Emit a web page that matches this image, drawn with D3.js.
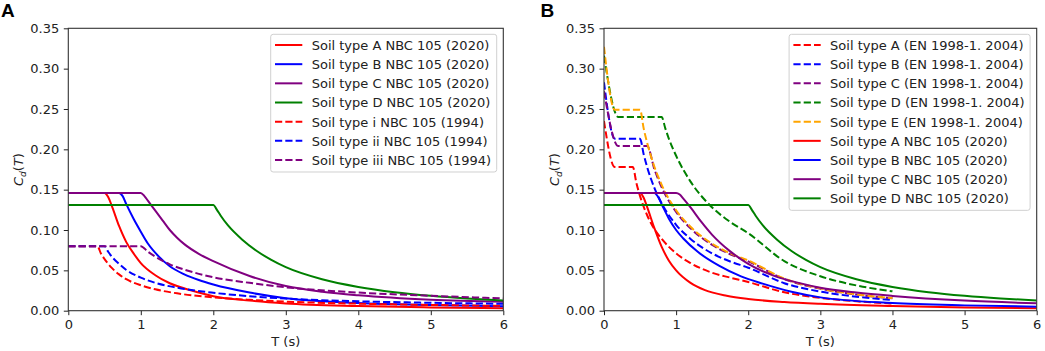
<!DOCTYPE html>
<html>
<head>
<meta charset="utf-8">
<script src="https://cdn.jsdelivr.net/npm/d3@7"></script>
<style>
  body { margin: 0; background: #fff; }
  svg { display: block; font-family: "DejaVu Sans", sans-serif; }
</style>
</head>
<body>
<svg id="chart" width="1045" height="351"></svg>
<script>
// ticks
const xTicks = [0, 1, 2, 3, 4, 5, 6];
const yTicks = [0, 0.05, 0.10, 0.15, 0.20, 0.25, 0.30, 0.35];

// panel A : NBC 105 (2020) and NBC 105 (1994), [T, Cd]
const aSoilA2020 = [[0,0.146],[0.5,0.146],[0.55,0.141],[0.6,0.13],[0.7,0.105],[0.8,0.085],[0.9,0.071],[1.0,0.059],[1.2,0.044],[1.4,0.034],[1.7,0.025],[2,0.018],[2.5,0.0125],[3,0.009],[4,0.0058],[5,0.004],[6,0.003]];
const aSoilB2020 = [[0,0.146],[0.7,0.146],[0.75,0.142],[0.8,0.132],[0.9,0.114],[1.0,0.098],[1.1,0.083],[1.25,0.067],[1.4,0.055],[1.6,0.045],[1.8,0.038],[2,0.0325],[2.5,0.0225],[3,0.0155],[4,0.0095],[5,0.007],[6,0.0055]];
const aSoilC2020 = [[0,0.146],[1.0,0.146],[1.05,0.142],[1.1,0.136],[1.2,0.124],[1.3,0.112],[1.4,0.1],[1.5,0.0905],[1.6,0.0825],[1.8,0.0705],[2,0.0615],[2.5,0.043],[3,0.0305],[3.5,0.0235],[4,0.019],[5,0.0135],[6,0.011]];
const aSoilD2020 = [[0,0.131],[2,0.131],[2.05,0.125],[2.1,0.118],[2.2,0.106],[2.4,0.088],[2.6,0.074],[2.8,0.063],[3,0.054],[3.5,0.039],[4,0.0295],[4.5,0.023],[5,0.0185],[5.5,0.0152],[6,0.0127]];
const aSoilI1994 = [[0,0.08],[0.4,0.08],[0.45,0.071],[0.5,0.064],[0.6,0.053],[0.7,0.045],[0.8,0.039],[1.0,0.0315],[1.2,0.0265],[1.5,0.0215],[2,0.0165],[2.5,0.0135],[3,0.0113],[4,0.0087],[5,0.0071],[6,0.006]];
const aSoilIi1994 = [[0,0.08],[0.5,0.08],[0.55,0.073],[0.6,0.067],[0.7,0.058],[0.8,0.0505],[1.0,0.041],[1.2,0.0345],[1.5,0.0285],[2,0.0222],[2.5,0.018],[3,0.015],[4,0.0117],[5,0.0098],[6,0.0086]];
const aSoilIii1994 = [[0,0.08],[1.0,0.08],[1.1,0.073],[1.2,0.067],[1.4,0.0575],[1.6,0.051],[2,0.0415],[2.5,0.0345],[3,0.029],[4,0.0225],[5,0.0185],[6,0.0152]];

// panel B : EN 1998-1 (2004) and NBC 105 (2020)
const bSoilAEN = [[0,0.235],[0.15,0.178],[0.4,0.178],[0.45,0.158],[0.5,0.142],[0.6,0.118],[0.7,0.101],[0.8,0.089],[1.0,0.071],[1.2,0.059],[1.5,0.047],[1.75,0.041],[2,0.0355],[2.5,0.0228],[3,0.0158],[3.5,0.0116],[4,0.0089]];
const bSoilBEN = [[0,0.283],[0.15,0.213],[0.5,0.213],[0.55,0.194],[0.6,0.1775],[0.7,0.152],[0.8,0.133],[1.0,0.1065],[1.2,0.089],[1.5,0.071],[1.75,0.061],[2,0.0533],[2.5,0.0341],[3,0.0237],[3.5,0.0174],[4,0.0133]];
const bSoilCEN = [[0,0.272],[0.2,0.204],[0.6,0.204],[0.7,0.175],[0.8,0.153],[1.0,0.1224],[1.2,0.102],[1.5,0.0816],[1.75,0.07],[2,0.0612],[2.5,0.0392],[3,0.0272],[3.5,0.02],[4,0.0153]];
const bSoilDEN = [[0,0.316],[0.2,0.24],[0.8,0.24],[0.85,0.226],[0.9,0.213],[1.0,0.192],[1.2,0.16],[1.5,0.128],[1.75,0.11],[2,0.096],[2.5,0.0614],[3,0.0427],[3.5,0.0313],[4,0.024]];
const bSoilEEN = [[0,0.327],[0.15,0.249],[0.5,0.249],[0.55,0.226],[0.6,0.2075],[0.7,0.178],[0.8,0.156],[1.0,0.1245],[1.2,0.104],[1.5,0.083],[1.75,0.071],[2,0.0623],[2.5,0.0398],[3,0.0277],[3.5,0.0203],[4,0.0156]];
const bSoilA2020 = [[0,0.146],[0.5,0.146],[0.55,0.14],[0.6,0.128],[0.7,0.102],[0.8,0.079],[0.9,0.062],[1.0,0.05],[1.2,0.0345],[1.4,0.0255],[1.7,0.0185],[2,0.0145],[2.5,0.0108],[3,0.0085],[4,0.0058],[5,0.004],[6,0.003]];
const bSoilB2020 = [[0,0.146],[0.7,0.146],[0.75,0.141],[0.8,0.132],[0.9,0.114],[1.0,0.1],[1.1,0.0895],[1.3,0.073],[1.6,0.0555],[1.9,0.0425],[2.2,0.0335],[2.6,0.0235],[3,0.0165],[4,0.0095],[5,0.0066],[6,0.005]];
const bSoilC2020 = [[0,0.146],[1.0,0.146],[1.05,0.144],[1.1,0.139],[1.2,0.128],[1.35,0.11],[1.5,0.094],[1.75,0.0735],[2,0.058],[2.35,0.0435],[2.7,0.0345],[3,0.0285],[3.5,0.0225],[4,0.0183],[5,0.0125],[6,0.0092]];
const bSoilD2020 = [[0,0.131],[2,0.131],[2.05,0.125],[2.1,0.118],[2.2,0.106],[2.4,0.088],[2.6,0.074],[2.8,0.063],[3,0.054],[3.5,0.039],[4,0.0295],[4.5,0.023],[5,0.0185],[5.5,0.0152],[6,0.0127]];

const panels = [
  {
    letter: "A", letterX: 1, left: 68.3, right: 503.3, ylabX: 23,
    series: [
      { label: "Soil type A NBC 105 (2020)", color: "red", dashed: false, data: aSoilA2020 },
      { label: "Soil type B NBC 105 (2020)", color: "blue", dashed: false, data: aSoilB2020 },
      { label: "Soil type C NBC 105 (2020)", color: "purple", dashed: false, data: aSoilC2020 },
      { label: "Soil type D NBC 105 (2020)", color: "green", dashed: false, data: aSoilD2020 },
      { label: "Soil type i NBC 105 (1994)", color: "red", dashed: true, data: aSoilI1994 },
      { label: "Soil type ii NBC 105 (1994)", color: "blue", dashed: true, data: aSoilIi1994 },
      { label: "Soil type iii NBC 105 (1994)", color: "purple", dashed: true, data: aSoilIii1994 }
    ]
  },
  {
    letter: "B", letterX: 540.5, left: 604, right: 1036.7, ylabX: 559,
    series: [
      { label: "Soil type A (EN 1998-1. 2004)", color: "red", dashed: true, data: bSoilAEN },
      { label: "Soil type B (EN 1998-1. 2004)", color: "blue", dashed: true, data: bSoilBEN },
      { label: "Soil type C (EN 1998-1. 2004)", color: "purple", dashed: true, data: bSoilCEN },
      { label: "Soil type D (EN 1998-1. 2004)", color: "green", dashed: true, data: bSoilDEN },
      { label: "Soil type E (EN 1998-1. 2004)", color: "orange", dashed: true, data: bSoilEEN },
      { label: "Soil type A NBC 105 (2020)", color: "red", dashed: false, data: bSoilA2020 },
      { label: "Soil type B NBC 105 (2020)", color: "blue", dashed: false, data: bSoilB2020 },
      { label: "Soil type C NBC 105 (2020)", color: "purple", dashed: false, data: bSoilC2020 },
      { label: "Soil type D NBC 105 (2020)", color: "green", dashed: false, data: bSoilD2020 }
    ]
  }
];

const plotTop = 28.3, plotBottom = 310.7;
const lineW = 2, dashPattern = "7.2,3.1";
const svg = d3.select("#chart");

panels.forEach((p, pi) => {
  const x = d3.scaleLinear().domain([0, 6]).range([p.left, p.right]);
  const y = d3.scaleLinear().domain([0, 0.35]).range([plotBottom, plotTop]);
  const g = svg.append("g");

  g.append("clipPath").attr("id", "clip" + pi)
    .append("rect")
    .attr("x", p.left).attr("y", plotTop)
    .attr("width", p.right - p.left).attr("height", plotBottom - plotTop);

  // curves
  const line = d3.line()
    .x(d => x(d[0]))
    .y(d => y(d[1]))
    .curve(d3.curveMonotoneX);

  g.append("g").attr("clip-path", `url(#clip${pi})`)
    .selectAll("path")
    .data(p.series)
    .enter().append("path")
    .attr("d", d => line(d.data))
    .attr("fill", "none")
    .attr("stroke", d => d.color)
    .attr("stroke-width", lineW)
    .attr("stroke-dasharray", d => d.dashed ? dashPattern : null);

  // axes
  const xAxis = g.append("g")
    .attr("transform", `translate(0,${plotBottom})`)
    .call(d3.axisBottom(x).tickValues(xTicks).tickFormat(d3.format("d"))
      .tickSize(4.5).tickPadding(4.5).tickSizeOuter(0));
  const yAxis = g.append("g")
    .attr("transform", `translate(${p.left},0)`)
    .call(d3.axisLeft(y).tickValues(yTicks).tickFormat(d3.format(".2f"))
      .tickSize(4.5).tickPadding(4.5).tickSizeOuter(0));
  [xAxis, yAxis].forEach(a => {
    a.select(".domain").remove();
    a.selectAll("line").attr("stroke", "#222").attr("stroke-width", 1);
    a.selectAll("text").attr("font-family", "DejaVu Sans").attr("font-size", 13).attr("fill", "#222");
  });

  // spines
  g.append("rect")
    .attr("x", p.left).attr("y", plotTop)
    .attr("width", p.right - p.left).attr("height", plotBottom - plotTop)
    .attr("fill", "none").attr("stroke", "#333").attr("stroke-width", 1.1);

  // axis labels
  g.append("text")
    .attr("x", (p.left + p.right) / 2).attr("y", 346)
    .attr("text-anchor", "middle").attr("font-size", 13).attr("fill", "#222")
    .text("T (s)");

  const yl = g.append("text")
    .attr("transform", `translate(${p.ylabX},${(plotTop + plotBottom) / 2}) rotate(-90)`)
    .attr("text-anchor", "middle").attr("font-size", 13).attr("fill", "#222");
  yl.append("tspan").attr("font-style", "italic").text("C");
  yl.append("tspan").attr("font-style", "italic").attr("font-size", 9).attr("dy", 2.5).text("d");
  yl.append("tspan").attr("dy", -2.5).text("(");
  yl.append("tspan").attr("font-style", "italic").text("T");
  yl.append("tspan").text(")");

  // panel letter
  g.append("text")
    .attr("x", p.letterX).attr("y", 17.2)
    .attr("font-family", "Liberation Sans, Arial, sans-serif")
    .attr("font-weight", "bold").attr("font-size", 19)
    .attr("fill", "#000")
    .text(p.letter);

  // legend (upper right)
  const rowH = 19.17;
  const lg = g.append("g");
  const box = lg.append("rect");
  const items = lg.selectAll("g.item")
    .data(p.series)
    .enter().append("g").attr("class", "item");
  const texts = items.append("text")
    .attr("font-size", 13).attr("fill", "#222")
    .text(d => d.label);
  let maxW = 0;
  texts.each(function() { maxW = Math.max(maxW, this.getComputedTextLength()); });
  const boxRight = p.right - 6.6;
  const textX = boxRight - 5.5 - maxW;
  const boxLeft = textX - 41;
  const boxTop = 34.3;
  texts.attr("x", textX).attr("y", (d, i) => boxTop + 10.7 + i * rowH + 4.9);
  items.append("line")
    .attr("x1", textX - 36.7).attr("x2", textX - 9.4)
    .attr("y1", (d, i) => boxTop + 10.7 + i * rowH)
    .attr("y2", (d, i) => boxTop + 10.7 + i * rowH)
    .attr("stroke", d => d.color)
    .attr("stroke-width", lineW)
    .attr("stroke-dasharray", d => d.dashed ? dashPattern : null);
  box.attr("x", boxLeft).attr("y", boxTop)
    .attr("width", boxRight - boxLeft)
    .attr("height", p.series.length * rowH + 3.5)
    .attr("rx", 2.5)
    .attr("fill", "#fff").attr("fill-opacity", 0.8)
    .attr("stroke", "#d0d0d0").attr("stroke-width", 1);
});
</script>
</body>
</html>
